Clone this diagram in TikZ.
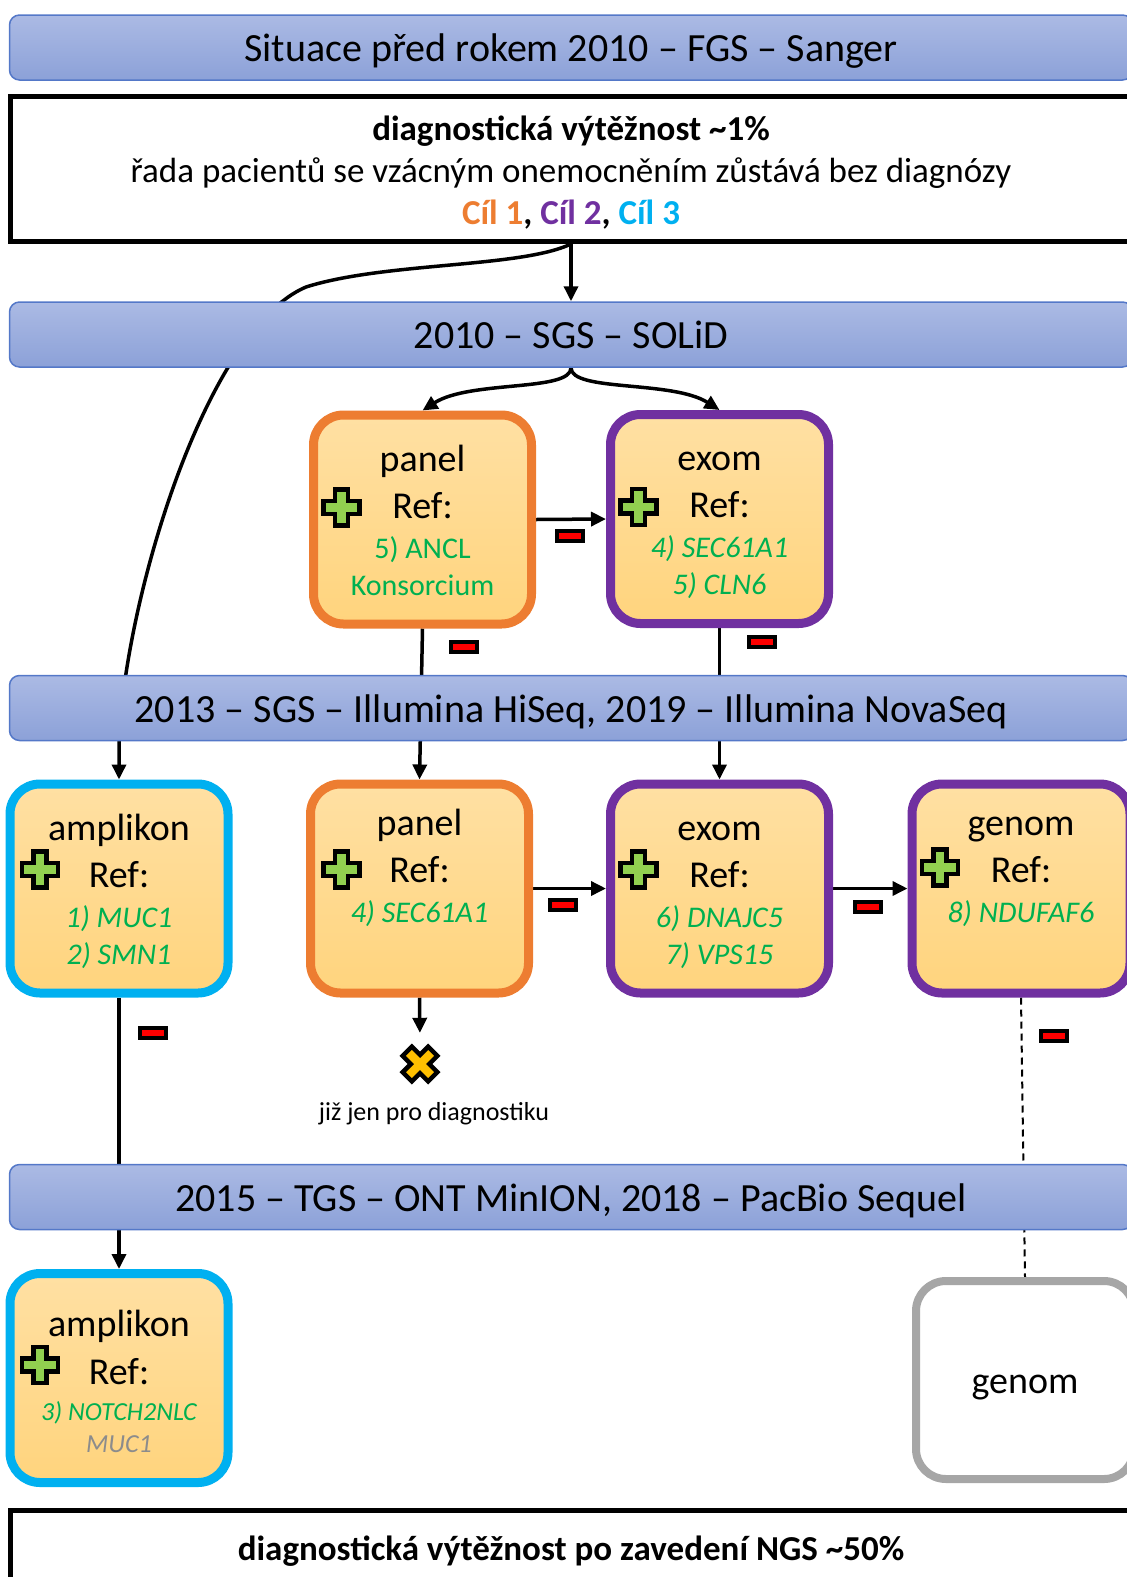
\documentclass[tikz,border=0pt]{standalone}
\usepackage{fontspec}
\setmainfont{Carlito}
\usepackage{tikz}
\usetikzlibrary{arrows,arrows.meta,shapes,positioning}
\pgfdeclarelayer{back}
\pgfsetlayers{back,main}

\definecolor{bandtop}{RGB}{171,186,228}
\definecolor{bandbot}{RGB}{140,161,216}
\definecolor{bandline}{RGB}{84,120,200}
\definecolor{boxtop}{RGB}{255,224,163}
\definecolor{boxbot}{RGB}{255,212,125}
\definecolor{cilone}{RGB}{237,125,49}
\definecolor{ciltwo}{RGB}{112,48,160}
\definecolor{cilthree}{RGB}{0,176,240}
\definecolor{refgreen}{RGB}{0,176,80}
\definecolor{refgrey}{RGB}{140,140,140}
\definecolor{plusgreen}{RGB}{146,208,80}
\definecolor{crossyellow}{RGB}{255,192,0}
\definecolor{greyline}{RGB}{166,166,166}

% plus / cross sign: style, centre, rotation
\newcommand{\signmark}[3]{%
  \draw[#1,shift={(#2)},rotate=#3] (-6.5,-18) -- (6.5,-18) -- (6.5,-6.5) -- (18,-6.5)
    -- (18,6.5) -- (6.5,6.5) -- (6.5,18) -- (-6.5,18) -- (-6.5,6.5) -- (-18,6.5)
    -- (-18,-6.5) -- (-6.5,-6.5) -- cycle;}

\begin{document}
\begin{tikzpicture}[x=1pt,y=-1pt,>={Triangle[length=15pt,width=14pt]}]
  \tikzstyle{band}=[draw=bandline,line width=1.5pt,rounded corners=10pt,
                    top color=bandtop,bottom color=bandbot,
                    minimum width=1123pt,minimum height=65pt,
                    text height=34pt,text depth=6pt,
                    font=\fontsize{40}{48}\selectfont]
  \tikzstyle{infobox}=[draw=black,fill=white,line width=5pt,
                       minimum width=1121pt,minimum height=145pt]
  \tikzstyle{infotext}=[align=center,font=\fontsize{35}{42}\selectfont]
  \tikzstyle{stagebase}=[rounded corners=30pt,line width=9pt,inner sep=0pt,
                         minimum width=218pt,minimum height=209pt]
  \tikzstyle{stage}=[stagebase,top color=boxtop,bottom color=boxbot]
  \tikzstyle{title}=[font=\fontsize{38}{44}\selectfont,inner sep=0pt,
                     text height=.6em,text depth=.1em]
  \tikzstyle{ref}=[font=\fontsize{30}{36}\selectfont,text=refgreen,
                   inner sep=0pt,text height=.6em,text depth=.1em]
  \tikzstyle{refit}=[ref,font=\fontsize{30}{36}\selectfont\itshape]
  \tikzstyle{refsmall}=[ref,font=\fontsize{26}{30}\selectfont\itshape]
  \tikzstyle{minus}=[draw=black,fill=red,line width=4pt,inner sep=0pt,
                     minimum width=26pt,minimum height=10pt]
  \tikzstyle{plusmark}=[fill=plusgreen,draw=black,line width=4.5pt]
  \tikzstyle{crossmark}=[fill=crossyellow,draw=black,line width=4.5pt]
  \tikzstyle{conn}=[line width=3.5pt]

  \useasboundingbox (0,0) rectangle (1127,1577);
  \clip (0,0) rectangle (1127,1577);

  % time bands and summary boxes
  \node[band] (fgs) at (571,47.5) {Situace před rokem 2010 – FGS – Sanger};
  \node[infobox] (start) at (571,169) {};
  \node[infotext] (starttext) at (571,173) {\textbf{diagnostická výtěžnost \textasciitilde1\%}\\
    řada pacientů se vzácným onemocněním zůstává bez diagnózy\\
    \textbf{\textcolor{cilone}{Cíl 1}, \textcolor{ciltwo}{Cíl 2}, \textcolor{cilthree}{Cíl 3}}};
  \node[band] (solid) at (571,334.5) {2010 – SGS – SOLiD};
  \node[band] (illumina) at (571,708) {2013 – SGS – Illumina HiSeq, 2019 – Illumina NovaSeq};
  \node[band] (tgs) at (571,1197) {2015 – TGS – ONT MinION, 2018 – PacBio Sequel};
  \node[infobox,minimum height=76pt] (finish) at (571,1548) {};
  \node[infotext] (finishtext) at (571,1551)
    {\textbf{diagnostická výtěžnost po zavedení NGS \textasciitilde50\%}};

  % 2010 row
  \node[stage,draw=cilone]  (panelA) at (422.5,519.5) {};
  \node[title] (panelAt) at ([yshift=51pt]panelA.center) {panel};
  \node[title] (panelAr) at ([yshift=4pt]panelA.center) {Ref:};
  \node[ref]   (panelA1) at ([yshift=-36pt]panelA.center) {5) ANCL};
  \node[ref]   (panelA2) at ([yshift=-73pt]panelA.center) {Konsorcium};
  \signmark{plusmark}{[shift={(-81,-12)}]panelA.center}{0}

  \node[stage,draw=ciltwo]  (exomA) at (719.5,519) {};
  \node[title] (exomAt) at ([yshift=51pt]exomA.center) {exom};
  \node[title] (exomAr) at ([yshift=4pt]exomA.center) {Ref:};
  \node[refit] (exomA1) at ([yshift=-36pt]exomA.center) {4) SEC61A1};
  \node[refit] (exomA2) at ([yshift=-73pt]exomA.center) {5) CLN6};
  \signmark{plusmark}{[shift={(-81,-12)}]exomA.center}{0}

  % 2013 row
  \node[stage,draw=cilthree] (ampB) at (119,888.5) {};
  \node[title] (ampBt) at ([yshift=51pt]ampB.center) {amplikon};
  \node[title] (ampBr) at ([yshift=4pt]ampB.center) {Ref:};
  \node[refit] (ampB1) at ([yshift=-36pt]ampB.center) {1) MUC1};
  \node[refit] (ampB2) at ([yshift=-73pt]ampB.center) {2) SMN1};
  \signmark{plusmark}{[shift={(-79,-19)}]ampB.center}{0}

  \node[stage,draw=cilone]  (panelB) at (419.5,888.5) {};
  \node[title] (panelBt) at ([yshift=56pt]panelB.center) {panel};
  \node[title] (panelBr) at ([yshift=9pt]panelB.center) {Ref:};
  \node[refit] (panelB1) at ([yshift=-31pt]panelB.center) {4) SEC61A1};
  \signmark{plusmark}{[shift={(-78,-19)}]panelB.center}{0}

  \node[stage,draw=ciltwo]  (exomB) at (719.5,888.5) {};
  \node[title] (exomBt) at ([yshift=51pt]exomB.center) {exom};
  \node[title] (exomBr) at ([yshift=4pt]exomB.center) {Ref:};
  \node[refit] (exomB1) at ([yshift=-36pt]exomB.center) {6) DNAJC5};
  \node[refit] (exomB2) at ([yshift=-73pt]exomB.center) {7) VPS15};
  \signmark{plusmark}{[shift={(-81,-19)}]exomB.center}{0}

  \node[stage,draw=ciltwo]  (genomB) at (1021,888.5) {};
  \node[title] (genomBt) at ([yshift=56pt]genomB.center) {genom};
  \node[title] (genomBr) at ([yshift=9pt]genomB.center) {Ref:};
  \node[refit] (genomB1) at ([yshift=-31pt]genomB.center) {8) NDUFAF6};
  \signmark{plusmark}{[shift={(-81,-21)}]genomB.center}{0}

  \node[minimum size=42pt] (stop) at (420,1064) {};
  \signmark{crossmark}{stop.center}{45}
  \node[font=\fontsize{26}{30}\selectfont] (stopnote) at (434,1114) {již jen pro diagnostiku};

  % 2015 row
  \node[stage,draw=cilthree] (ampC) at (119,1378) {};
  \node[title] (ampCt) at ([yshift=44pt]ampC.center) {amplikon};
  \node[title] (ampCr) at ([yshift=-4pt]ampC.center) {Ref:};
  \node[refsmall] (ampC1) at ([yshift=-40pt]ampC.center) {3) NOTCH2NLC};
  \node[refsmall,text=refgrey] (ampC2) at ([yshift=-72pt]ampC.center) {MUC1};
  \signmark{plusmark}{[shift={(-79,-13)}]ampC.center}{0}

  \node[stagebase,draw=greyline,fill=white,line width=8pt,minimum height=198pt]
    (genomC) at (1025,1380) {};
  \node[title] (genomCt) at ([yshift=-11pt]genomC.center) {genom};

  % minus signs
  \node[minus] (mA) at (570,536) {};
  \node[minus] (mB) at (464,647) {};
  \node[minus] (mC) at (762,642) {};
  \node[minus] (mD) at (153,1033) {};
  \node[minus] (mE) at (563,905) {};
  \node[minus] (mF) at (868,907) {};
  \node[minus] (mG) at (1054,1036) {};

  \begin{pgfonlayer}{back}
  \draw[conn,->] (start.south) -- (solid.north);
  \draw[conn,->] (start.south) .. controls (520,268) and (385,262) .. (306,287)
     .. controls (205,330) and (125,600) .. (119,741) -- (ampB.north);
  \draw[conn,->] (solid.south) .. controls (571,392) and (470,380) .. (panelA.north);
  \draw[conn,->] (solid.south) .. controls (571,392) and (672,380) .. (exomA.north);
  \draw[conn,->] (panelA.east) -- (exomA.west);
  \draw[conn,->] (panelA.south) -- (panelB.north);
  \draw[conn,->] (exomA.south) -- (exomB.north);
  \draw[conn,->] (panelB.east) -- (exomB.west);
  \draw[conn,->] (exomB.east) -- (genomB.west);
  \draw[conn,->] (ampB.south) -- (ampC.north);
  \draw[conn,->,shorten >=10pt] (panelB.south) -- (stop.north);
  \draw[line width=2pt,dash pattern=on 7pt off 5pt] (genomB.south) -- (genomC.north);
  \end{pgfonlayer}
\end{tikzpicture}
\end{document}
